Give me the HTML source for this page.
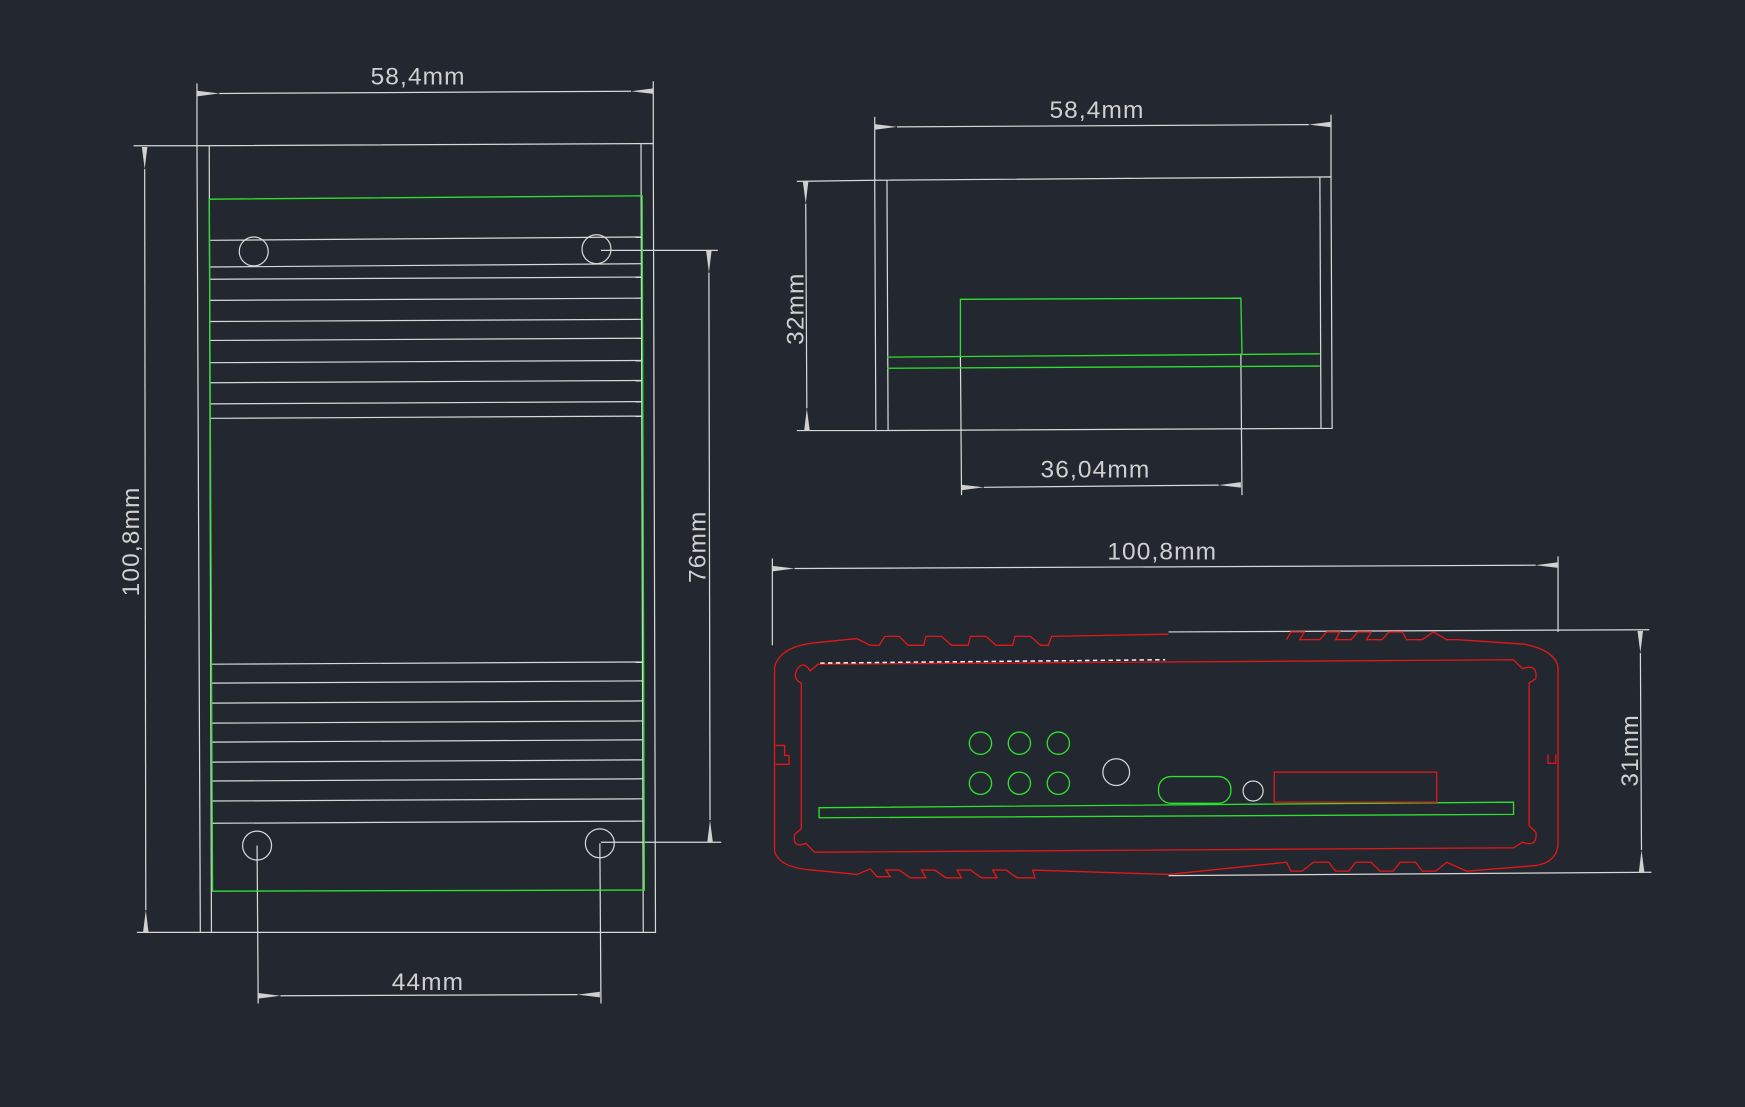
<!DOCTYPE html>
<html><head><meta charset="utf-8"><style>
html,body{margin:0;padding:0;background:#222730;}
svg{display:block}
text{font-family:"Liberation Sans",sans-serif;fill:#d0d0d0;font-size:22px;letter-spacing:1px}
</style></head><body>
<svg width="1745" height="1107" viewBox="0 0 1568 995" preserveAspectRatio="none" xmlns="http://www.w3.org/2000/svg">
<defs>
<marker id="a" viewBox="0 0 20 6" refX="0" refY="3" markerWidth="20" markerHeight="6" markerUnits="userSpaceOnUse" orient="auto-start-reverse"><path d="M0,3 L20,0.5 L20,5.5Z" fill="#d0d0d0"/></marker>
</defs>
<rect width="1568" height="995" fill="#222730"/>
<g stroke="#d8d8d8" stroke-width="1.1" fill="none">
<!-- left view -->
<path d="M177,131 L587,129 L589,838 L180,838 Z"/>
<line x1="188" y1="131" x2="190" y2="838"/><line x1="576" y1="129" x2="578" y2="838"/>
<g>
<line x1="189" y1="240" x2="577" y2="237"/><line x1="189" y1="216" x2="577" y2="213"/>
<line x1="189" y1="251" x2="577" y2="249"/><line x1="189" y1="270" x2="577" y2="268"/>
<line x1="189" y1="289" x2="577" y2="287"/><line x1="189" y1="306" x2="577" y2="304"/>
<line x1="189" y1="326" x2="577" y2="324"/><line x1="189" y1="344" x2="577" y2="342"/>
<line x1="189" y1="363" x2="577" y2="361"/><line x1="189" y1="376" x2="577" y2="374"/>
<line x1="190" y1="597" x2="578" y2="595"/><line x1="190" y1="614" x2="578" y2="612"/>
<line x1="190" y1="632" x2="578" y2="630"/><line x1="190" y1="650" x2="578" y2="648"/>
<line x1="190" y1="667" x2="578" y2="665"/><line x1="190" y1="685" x2="578" y2="683"/>
<line x1="190" y1="702" x2="578" y2="700"/><line x1="190" y1="720" x2="578" y2="718"/>
<line x1="190" y1="740" x2="578" y2="738"/>
</g>
<circle cx="228" cy="226" r="13"/><circle cx="536" cy="224" r="13"/>
<circle cx="231" cy="760" r="13"/><circle cx="539" cy="758" r="13"/>
<!-- dims left -->
<line x1="177" y1="75" x2="177" y2="131"/><line x1="587" y1="73" x2="587" y2="129"/>
<line x1="197" y1="84" x2="567" y2="82" marker-start="url(#a)" marker-end="url(#a)"/>
<line x1="120" y1="131" x2="177" y2="131"/><line x1="123" y1="838" x2="180" y2="838"/>
<line x1="130" y1="152" x2="131" y2="818" marker-start="url(#a)" marker-end="url(#a)"/>
<line x1="540" y1="225" x2="645" y2="225"/><line x1="540" y1="757" x2="648" y2="757"/>
<line x1="637" y1="245" x2="638" y2="737" marker-start="url(#a)" marker-end="url(#a)"/>
<line x1="231" y1="760" x2="232" y2="902"/><line x1="539" y1="758" x2="540" y2="902"/>
<line x1="252" y1="895" x2="519" y2="894" marker-start="url(#a)" marker-end="url(#a)"/>
<!-- top right view -->
<path d="M786,162 L1196,159 L1197,385 L787,387 Z"/>
<line x1="797" y1="162" x2="798" y2="387"/><line x1="1186" y1="159" x2="1187" y2="385"/>
<line x1="786" y1="105" x2="786" y2="162"/><line x1="1196" y1="103" x2="1196" y2="159"/>
<line x1="806" y1="114" x2="1176" y2="112" marker-start="url(#a)" marker-end="url(#a)"/>
<line x1="716" y1="163" x2="786" y2="162"/><line x1="716" y1="387" x2="787" y2="387"/>
<line x1="724" y1="183" x2="725" y2="367" marker-start="url(#a)" marker-end="url(#a)"/>
<line x1="863" y1="320" x2="864" y2="445"/><line x1="1115" y1="318" x2="1116" y2="445"/>
<line x1="884" y1="438" x2="1095" y2="436" marker-start="url(#a)" marker-end="url(#a)"/>
<!-- bottom view dims -->
<line x1="694" y1="502" x2="694" y2="580"/><line x1="1400" y1="500" x2="1400" y2="568"/>
<line x1="714" y1="511" x2="1380" y2="508" marker-start="url(#a)" marker-end="url(#a)"/>
<line x1="1050" y1="568" x2="1482" y2="566"/><line x1="1050" y1="787" x2="1484" y2="784"/>
<line x1="1474" y1="587" x2="1475" y2="764" marker-start="url(#a)" marker-end="url(#a)"/>
<circle cx="1003" cy="694" r="12"/><circle cx="1126" cy="711" r="9"/>
</g>
<g stroke="#2ee02e" stroke-width="1.2" fill="none">
<path d="M188,179 L577,176 L579,800 L191,801 Z"/>
<line x1="797" y1="321" x2="1186" y2="318"/><line x1="797" y1="331" x2="1186" y2="329"/>
<path d="M863,320 L863,269 L1115,268 L1116,318"/>
<circle cx="881" cy="668" r="10"/><circle cx="916" cy="668" r="10"/><circle cx="951" cy="668" r="10"/>
<circle cx="881" cy="704" r="10"/><circle cx="916" cy="704" r="10"/><circle cx="951" cy="704" r="10"/>
<rect x="1041" y="698" width="65" height="24" rx="11"/>
<path d="M736,726 L1360,721 L1360,732 L736,735 Z"/>
</g>
<g stroke="#e01818" stroke-width="1.2" fill="none">
<rect x="1145" y="694" width="146" height="27"/>
<path d="M730,578 Q700,582 696,600 L696,765 Q700,780 730,782 L770,786 L782,781 L788,788 L800,788 L796,782 L808,782 L818,789 L832,789 L828,782 L840,782 L850,789 L864,789 L860,782 L872,782 L882,789 L896,789 L892,782 L904,782 L914,789 L930,789 L928,782 L1050,786"/>
<path d="M730,578 L770,574 L782,580 L790,580 L795,572 L808,572 L816,580 L830,580 L832,572 L846,572 L855,580 L870,580 L872,572 L886,572 L895,580 L910,580 L912,572 L926,572 L935,580 L942,580 L945,572 L1050,570"/>
<path d="M1156,575 L1160,568 L1172,568 L1168,575 L1186,575 L1192,568 L1204,568 L1200,575 L1214,575 L1220,568 L1232,568 L1228,575 L1242,575 L1248,568 L1260,568 L1264,575 L1278,575 L1288,568 L1300,575 L1310,575 L1370,579 Q1398,585 1400,600 L1400,760 Q1398,775 1380,778 L1318,783 L1300,775 L1290,783 L1278,783 L1272,775 L1258,775 L1252,783 L1240,783 L1232,775 L1218,775 L1212,783 L1200,783 L1194,775 L1180,775 L1170,783 L1160,783 L1156,775 L1050,786"/>
<path d="M735,597 L1360,593 L1368,601 Q1382,596 1380,610 L1374,614 L1374,742 L1380,748 Q1382,762 1368,757 L1360,762 L732,766 L724,758 Q712,763 714,750 L720,745 L720,614 Q712,610 716,602 Q722,593 728,603 Z"/>
<path d="M697,670 L705,670 L705,679 L709,679 L709,687 L697,687"/>
<path d="M1391,678 L1391,686 L1398,686 L1398,678"/>
</g>
<path d="M737,596 L1047,593" stroke="#ffffff" stroke-width="1.3" stroke-dasharray="4,3" fill="none"/>
<text x="333" y="76">58,4mm</text>
<text x="943" y="106">58,4mm</text>
<text x="935" y="429">36,04mm</text>
<text x="995" y="503">100,8mm</text>
<text x="352" y="890">44mm</text>
<text transform="translate(125,536) rotate(-90)">100,8mm</text>
<text transform="translate(634,524) rotate(-90)">76mm</text>
<text transform="translate(722,310) rotate(-90)">32mm</text>
<text transform="translate(1472,707) rotate(-90)">31mm</text>
</svg>
</body></html>
